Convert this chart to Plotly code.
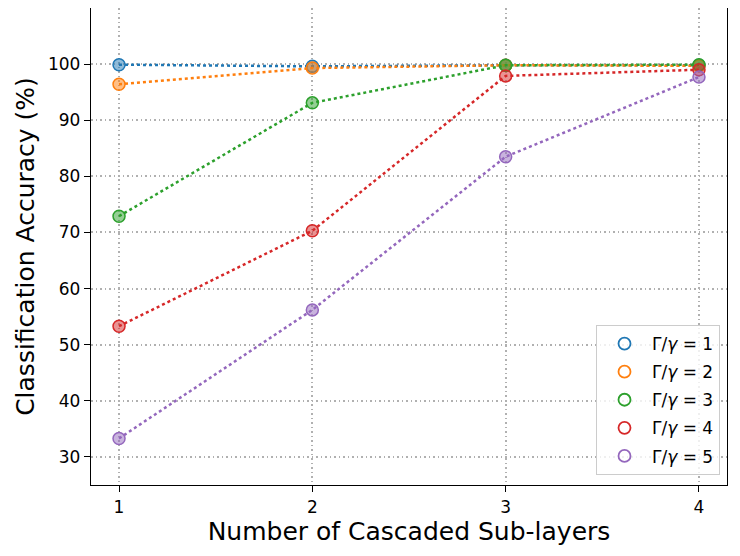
import plotly.graph_objects as go

x_layers = [1, 2, 3, 4]
ratio_labels = ["1", "2", "3", "4", "5"]
acc_r1 = [99.9, 99.6, 99.8, 99.8]
acc_r2 = [96.4, 99.3, 99.8, 99.7]
acc_r3 = [72.9, 93.1, 99.8, 99.9]
acc_r4 = [53.3, 70.3, 97.9, 99.0]
acc_r5 = [33.3, 56.2, 83.5, 97.7]
series = [acc_r1, acc_r2, acc_r3, acc_r4, acc_r5]
colors = ["#1f77b4", "#ff7f0e", "#2ca02c", "#d62728", "#9467bd"]
fills = ["rgba(31,119,180,0.5)", "rgba(255,127,14,0.5)", "rgba(44,160,44,0.5)",
         "rgba(214,39,40,0.5)", "rgba(148,103,189,0.5)"]

fig = go.Figure()
for vals, col, fc, lab in zip(series, colors, fills, ratio_labels):
    fig.add_trace(go.Scatter(
        x=x_layers, y=vals, mode="lines+markers", showlegend=False,
        line=dict(color=col, width=2.5, dash="dot"),
        marker=dict(size=12, color=fc, line=dict(color=col, width=1.5)),
    ))
for col, lab in zip(colors, ratio_labels):
    fig.add_trace(go.Scatter(
        x=[None], y=[None], mode="markers", name="Γ/<i>γ</i> = " + lab,
        legendgroup="g" + lab,
        marker=dict(symbol="circle-open", size=12, color=col, line=dict(width=1.8)),
    ))

axis_common = dict(
    showline=True, linecolor="black", linewidth=1.3, mirror=True,
    ticks="outside", ticklen=6, tickwidth=1.3, tickcolor="black",
    showgrid=True, gridcolor="#b0b0b0", gridwidth=1.5, griddash="1.5px,3px",
    zeroline=False, tickfont=dict(size=17, color="black"), automargin=False,
)
fig.update_xaxes(range=[0.855, 4.145], tickvals=x_layers, **axis_common,
                 title=dict(text="Number of Cascaded Sub-layers", font=dict(size=25, color="black"), standoff=4))
fig.update_yaxes(range=[25, 110], tickvals=[30, 40, 50, 60, 70, 80, 90, 100], **axis_common,
                 title=dict(text="Classification Accuracy (%)", font=dict(size=25, color="black"), standoff=6))

fig.update_layout(
    width=732, height=548,
    margin=dict(l=83, r=13, t=0, b=71),
    plot_bgcolor="white", paper_bgcolor="white",
    font=dict(family="DejaVu Sans", color="black"),
    legend=dict(x=0.989, y=0.021, xanchor="right", yanchor="bottom",
                bgcolor="rgba(255,255,255,0.8)", bordercolor="#cccccc", borderwidth=1,
                font=dict(size=17), itemwidth=45, tracegroupgap=3),
)
fig.write_html("out.html")
